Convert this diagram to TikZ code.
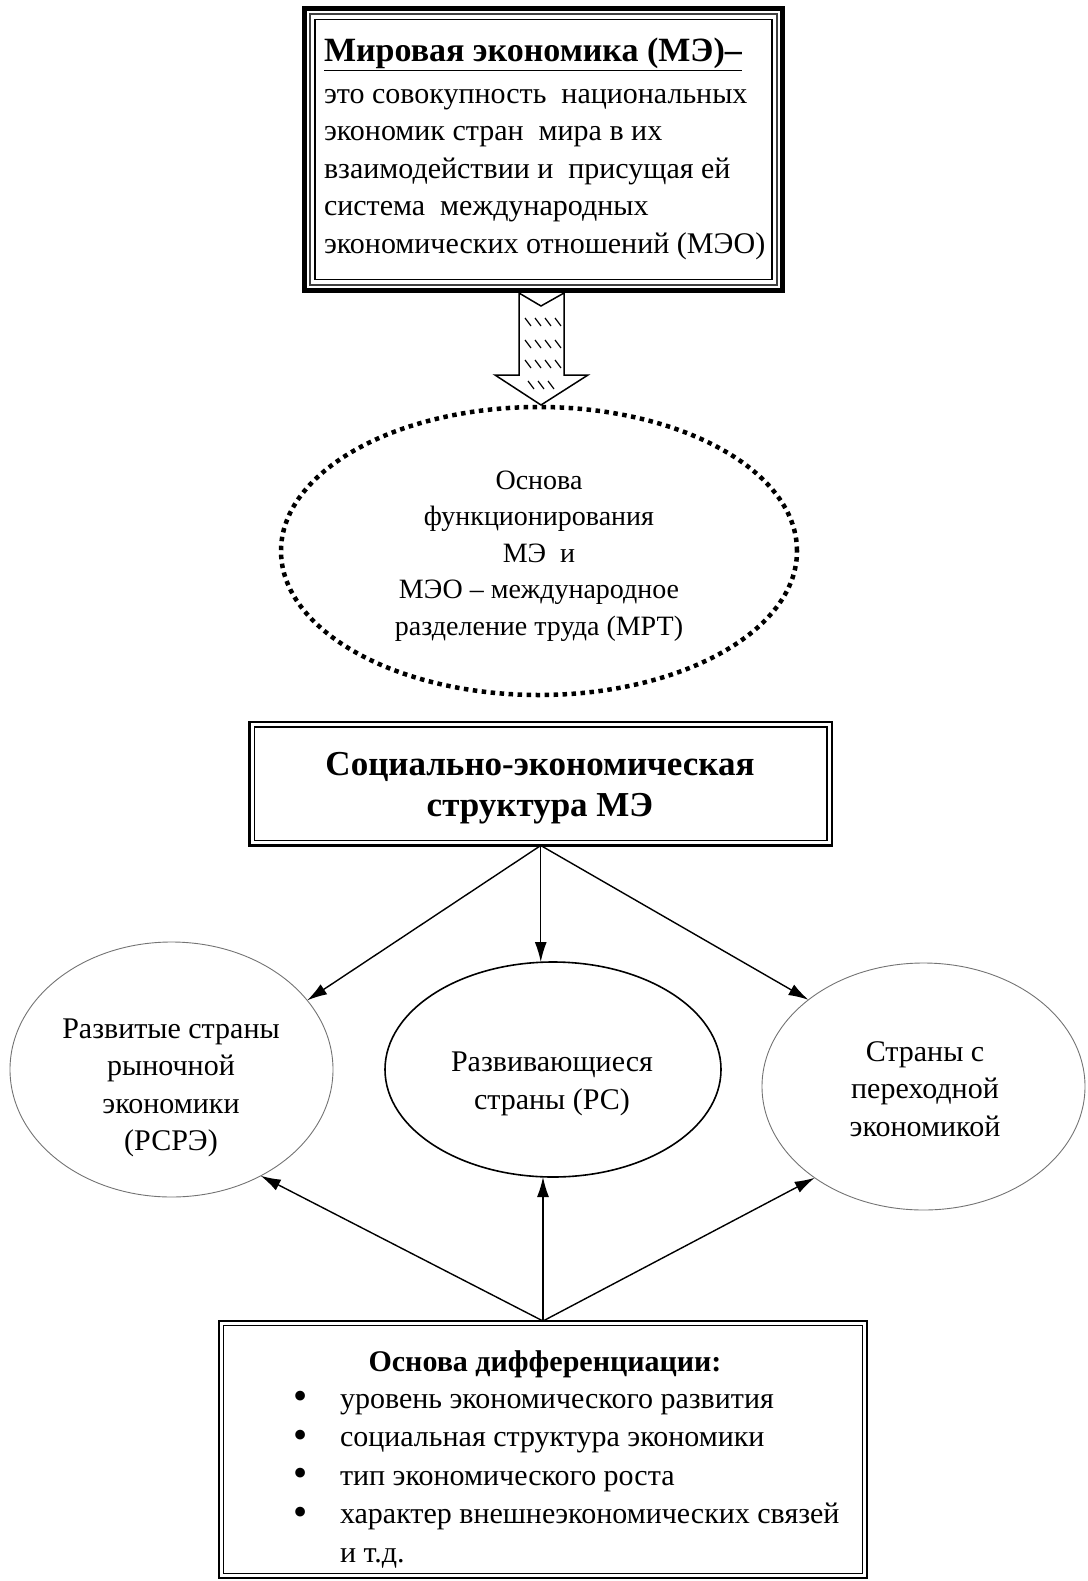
\documentclass[tikz,border=0pt]{standalone}
\usepackage{fontspec}
\usepackage{graphicx}
\setmainfont{Liberation Serif}
\usetikzlibrary{arrows.meta,shapes.geometric,calc}
\newcommand{\bigbul}{\makebox[47pt][l]{\raisebox{-1.5pt}{\scalebox{1.35}{\textbullet}}}}
\begin{document}
\begin{tikzpicture}[x=1pt,y=-1pt,
  every node/.style={inner sep=0pt, outer sep=0pt},
  body/.style={font=\fontsize{30}{37.5}\selectfont},
  conn/.style={line width=1.4pt, -{Latex[length=20pt,width=12pt]}},
  frame/.style={draw, line width=2.2pt},
  oval/.style={ellipse, draw}]
\useasboundingbox (0,0) rectangle (1087,1581);

% ---- top box
\node[draw, line width=5pt, minimum width=478pt, minimum height=281pt] (mir) at (543.5,149.5) {};
\draw[line width=2pt, black!75] ([shift={(5.5pt,-5.5pt)}]mir.north west) rectangle ([shift={(-5.5pt,5.5pt)}]mir.south east);
\draw[line width=1.6pt] ([shift={(10.5pt,-10.5pt)}]mir.north west) rectangle ([shift={(-10.5pt,10.5pt)}]mir.south east);
\node[body, anchor=west, align=left] (mirtxt) at (324,149)
 {{\fontsize{34}{37.5}\selectfont\bfseries\underline{Мировая экономика (МЭ)–}}\\[4pt]
  это совокупность\ \ национальных\\
  экономик стран\ \ мира в их\\
  взаимодействии и\ \ присущая ей\\
  система\ \ международных\\
  экономических отношений (МЭО)};

% ---- hatched arrow
\draw[line width=1.5pt, fill=white, line join=miter] (519,293) -- (541,306) -- (564,293) -- (564,375) -- (588,375) -- (541,405) -- (495,375) -- (519,375) -- cycle;
\foreach \yy in {318,340,360} {
  \foreach \xx in {525,535,545,555} { \draw[line width=1.2pt] (\xx,\yy) -- ++(6,8); }
}
\foreach \xx in {528,538,548} { \draw[line width=1.2pt] (\xx,381) -- ++(6,8); }

% ---- dotted ellipse
\node[oval, line width=4.5pt, dash pattern=on 4.5pt off 4.5pt, minimum width=516pt, minimum height=288pt] (mrt) at (539,551) {};
\node[font=\fontsize{28}{36.5}\selectfont, align=center] (mrttxt) at (539,556)
 {Основа\\функционирования\\МЭ\ \ и\\МЭО – международное\\разделение труда (МРТ)};

% ---- social structure box
\node[frame, minimum width=582.5pt, minimum height=123.5pt] (soc) at (540.75,783.75) {};
\draw[line width=1.5pt] ([shift={(5pt,-5pt)}]soc.north west) rectangle ([shift={(-5pt,5pt)}]soc.south east);
\node[font=\fontsize{35}{41}\selectfont\bfseries, align=center] (soctxt) at (540,788)
 {Социально-экономическая\\структура МЭ};

% ---- three groups
\node[oval, draw=black!55, line width=0.9pt, minimum width=323pt, minimum height=255pt] (L) at (171.5,1069.5) {};
\node[oval, line width=1.6pt, minimum width=336pt, minimum height=215pt] (M) at (553,1069.5) {};
\node[oval, draw=black!55, line width=0.9pt, minimum width=323pt, minimum height=247pt] (R) at (923.5,1086.5) {};
\node[body, align=center] (Ltxt) at (171,1088) {Развитые страны\\рыночной\\экономики\\(РСРЭ)};
\node[body, align=center] (Mtxt) at (552,1084) {Развивающиеся\\страны (РС)};
\node[body, align=center] (Rtxt) at (925,1089) {Страны с\\переходной\\экономикой};

% ---- bottom box
\node[frame, minimum width=648pt, minimum height=257pt] (B) at (543,1449.5) {};
\draw[line width=1.5pt] ([shift={(4.5pt,-4.5pt)}]B.north west) rectangle ([shift={(-4.5pt,4.5pt)}]B.south east);
\node[font=\fontsize{30}{37.5}\selectfont\bfseries] (Btitle) at (545,1364) {Основа дифференциации:};
\node[font=\fontsize{30}{38.5}\selectfont, anchor=west, align=left] (Blist) at (293,1480)
 {\bigbul уровень экономического развития\\
  \bigbul социальная структура экономики\\
  \bigbul тип экономического роста\\
  \bigbul характер внешнеэкономических связей\\
  \hspace*{47pt}и т.д.};

% ---- connectors
\draw[conn] (soc.south) -- (L.27);
\draw[conn] (soc.south) -- (soc.south |- M.north);
\draw[conn] (soc.south) -- (R.143);
\draw[conn] (B.north) -- (L.-50);
\draw[conn] (B.north) -- (B.north |- M.south);
\draw[conn] (B.north) -- (R.-140);
\end{tikzpicture}
\end{document}
